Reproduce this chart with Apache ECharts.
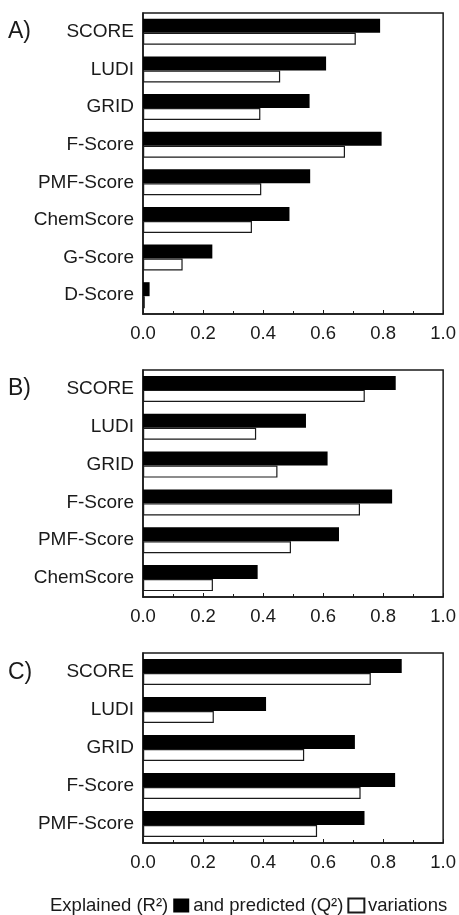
<!DOCTYPE html>
<html>
<head>
<meta charset="utf-8">
<script src="https://cdn.jsdelivr.net/npm/echarts@6/dist/echarts.min.js"></script>
<style>
  html, body { margin: 0; padding: 0; background: #fff; }
  #main { width: 459px; height: 915px; }
</style>
</head>
<body>
<div id="main"></div>
<script>
// 数据
const catsA = ['SCORE', 'LUDI', 'GRID', 'F-Score', 'PMF-Score', 'ChemScore', 'G-Score', 'D-Score'];
const r2A = [0.79, 0.61, 0.555, 0.795, 0.557, 0.488, 0.231, 0.022];
const q2A = [0.709, 0.457, 0.391, 0.673, 0.394, 0.363, 0.132, 0.006];

const catsB = ['SCORE', 'LUDI', 'GRID', 'F-Score', 'PMF-Score', 'ChemScore'];
const r2B = [0.842, 0.543, 0.615, 0.83, 0.653, 0.382];
const q2B = [0.739, 0.377, 0.448, 0.723, 0.493, 0.233];

const catsC = ['SCORE', 'LUDI', 'GRID', 'F-Score', 'PMF-Score'];
const r2C = [0.862, 0.41, 0.706, 0.84, 0.738];
const q2C = [0.759, 0.236, 0.537, 0.725, 0.58];

const panelLabels = ['A)', 'B)', 'C)'];
const nameR2 = 'Explained (R²)';
const nameQ2 = 'and predicted (Q²)';

const font = 'Liberation Sans, Arial, Helvetica, sans-serif';
const ink = '#1a1a1a';

let myChart = echarts.init(document.getElementById('main'));

// 三个面板的位置
const grids = [
  { left: 143, top: 13, width: 302, height: 301 },
  { left: 143, top: 370, width: 302, height: 227 },
  { left: 143, top: 653, width: 302, height: 190 }
];

function xAxisFor(i) {
  return {
    type: 'value',
    gridIndex: i,
    min: 0,
    max: 1,
    interval: 0.2,
    axisLine: { show: true, lineStyle: { color: ink, width: 1.5 } },
    axisTick: { show: true, inside: true, length: 4, lineStyle: { color: ink } },
    minorTick: { show: true, splitNumber: 2, length: 3, lineStyle: { color: ink } },
    splitLine: { show: false },
    axisLabel: {
      color: ink, fontSize: 18.5, fontFamily: font, margin: 10,
      formatter: v => v.toFixed(1)
    }
  };
}

function yAxisFor(i, cats) {
  return {
    type: 'category',
    gridIndex: i,
    inverse: true,
    data: cats,
    axisLine: { show: true, lineStyle: { color: ink, width: 1.5 } },
    axisTick: { show: false },
    axisLabel: { color: ink, fontSize: 19, fontFamily: font, margin: 9 }
  };
}

function barsFor(i, r2, q2) {
  return [
    {
      name: nameR2, type: 'bar', xAxisIndex: i, yAxisIndex: i,
      barWidth: 14, barGap: '0%',
      itemStyle: { color: '#000' },
      data: r2
    },
    {
      name: nameQ2, type: 'bar', xAxisIndex: i, yAxisIndex: i,
      barWidth: 12, barGap: '0%',
      itemStyle: { color: '#fff', borderColor: ink, borderWidth: 1.2 },
      data: q2
    }
  ];
}

myChart.setOption({
  animation: false,
  backgroundColor: '#fff',
  grid: grids.map(g => Object.assign({ show: true, borderColor: ink, borderWidth: 1.5, backgroundColor: 'transparent' }, g)),
  xAxis: [xAxisFor(0), xAxisFor(1), xAxisFor(2)],
  yAxis: [yAxisFor(0, catsA), yAxisFor(1, catsB), yAxisFor(2, catsC)],
  series: [].concat(barsFor(0, r2A, q2A), barsFor(1, r2B, q2B), barsFor(2, r2C, q2C)),
  legend: {
    left: 50,
    top: 896,
    align: 'right',
    itemWidth: 16,
    itemHeight: 14,
    itemGap: 4,
    padding: 0,
    selectedMode: false,
    textStyle: { color: ink, fontSize: 18.5, fontFamily: font },
    data: [
      { name: nameR2, icon: 'rect' },
      { name: nameQ2, icon: 'rect' }
    ]
  },
  graphic: [
    { type: 'text', left: 8, top: 20, style: { text: panelLabels[0], fontSize: 23, fontFamily: font, fill: ink } },
    { type: 'text', left: 8, top: 377, style: { text: panelLabels[1], fontSize: 23, fontFamily: font, fill: ink } },
    { type: 'text', left: 8, top: 661, style: { text: panelLabels[2], fontSize: 23, fontFamily: font, fill: ink } },
    { type: 'text', left: 368, top: 896, style: { text: 'variations', fontSize: 18.5, fontFamily: font, fill: ink } }
  ]
});
</script>
</body>
</html>
